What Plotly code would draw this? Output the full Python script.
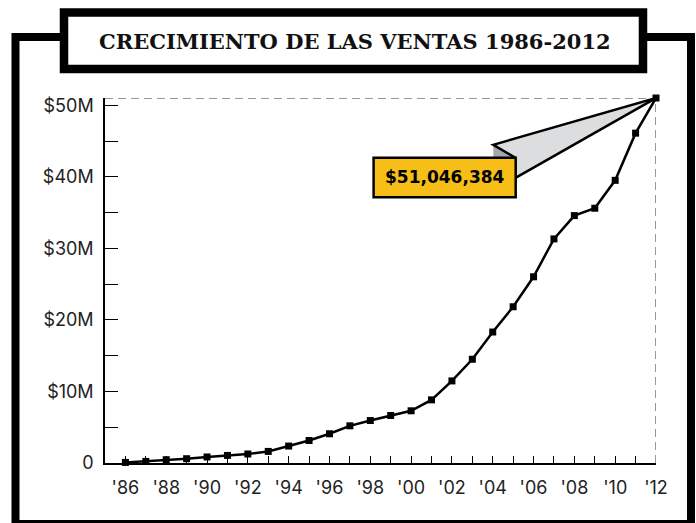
import plotly.graph_objects as go

# ---- data ----
years = list(range(1986, 2013))
sales = [0.08e6, 0.22e6, 0.46e6, 0.60e6, 0.84e6, 1.06e6, 1.26e6, 1.62e6, 2.37e6,
         3.15e6, 4.09e6, 5.20e6, 5.94e6, 6.64e6, 7.30e6, 8.83e6, 11.48e6, 14.51e6,
         18.32e6, 21.85e6, 26.04e6, 31.34e6, 34.60e6, 35.63e6, 39.53e6, 46.13e6,
         51046384]
title_text = "CRECIMIENTO DE LAS VENTAS 1986-2012"
y_tick_vals = [0, 5e6, 10e6, 15e6, 20e6, 25e6, 30e6, 35e6, 40e6, 45e6, 50e6]
y_tick_text = ["0", "", "$10M", "", "$20M", "", "$30M", "", "$40M", "", "$50M"]
x_tick_text = ["'" + str(y)[2:] if y % 2 == 0 else "" for y in years]
callout_text = "${:,}".format(sales[-1])

# ---- layout geometry ----
W, H = 696, 523
L, R, T, B = 105, 40, 98, 60
PW, PH = W - L - R, H - T - B


def px(x):
    return (x - L) / PW


def py(y):
    return (H - B - y) / PH


fig = go.Figure()
fig.add_trace(go.Scatter(
    x=years, y=sales, mode="lines+markers",
    line=dict(color="black", width=2.5),
    marker=dict(symbol="square", size=7, color="black"),
    cliponaxis=False, hoverinfo="skip", showlegend=False))

shapes = []
# outer frame
shapes.append(dict(type="rect", xref="paper", yref="paper",
                   x0=px(15.5), x1=px(691), y0=py(524), y1=py(37),
                   line=dict(color="black", width=8), fillcolor="rgba(0,0,0,0)"))
# title box
shapes.append(dict(type="rect", xref="paper", yref="paper",
                   x0=px(64), x1=px(643), y0=py(69), y1=py(12.5),
                   line=dict(color="black", width=8.5), fillcolor="white"))
# dashed guide lines to last point
shapes.append(dict(type="line", xref="paper", yref="y", x0=0, x1=1,
                   y0=sales[-1], y1=sales[-1],
                   line=dict(color="#333", width=1, dash="8px,5px")))
shapes.append(dict(type="line", xref="x", yref="y", x0=years[-1], x1=years[-1],
                   y0=0, y1=sales[-1],
                   line=dict(color="#333", width=1, dash="8px,5px")))

anchor = dict(xref="x", yref="y", xsizemode="pixel", ysizemode="pixel",
              xanchor=years[-1], yanchor=sales[-1])
# callout wedge (light)
shapes.append(dict(type="path", **anchor,
                   path="M0,0 L-162.7,-46.8 L-140.5,-59.8 L-140.5,-79.8 Z",
                   fillcolor="#DCDDDF", line=dict(width=0)))
# callout wedge (dark side)
shapes.append(dict(type="path", **anchor,
                   path="M-162.7,-46.8 L-162.7,-59.8 L-140.5,-59.8 Z",
                   fillcolor="#A5A7AA", line=dict(width=0)))
# callout outline
shapes.append(dict(type="path", **anchor,
                   path="M-140.5,-79.8 L0,0 L-162.7,-46.8 L-140.5,-59.8",
                   fillcolor="rgba(0,0,0,0)", line=dict(color="black", width=2.5)))
# yellow label box
shapes.append(dict(type="rect", **anchor,
                   x0=-282.4, x1=-140.3, y0=-59.8, y1=-99.2,
                   fillcolor="#F6BE16", line=dict(color="black", width=2.5)))

annotations = [
    dict(xref="paper", yref="paper", x=px(355), y=py(42), showarrow=False,
         text="<b>" + title_text + "</b>", xanchor="center", yanchor="middle",
         font=dict(family="DejaVu Serif", size=21, color="#111")),
    dict(xref="x", yref="y", x=years[-1], y=sales[-1], showarrow=False,
         xshift=-211.5, yshift=-79, text="<b>" + callout_text + "</b>",
         xanchor="center", yanchor="middle",
         font=dict(family="DejaVu Sans", size=17, color="black")),
]

fig.update_layout(
    width=W, height=H, margin=dict(l=L, r=R, t=T, b=B, pad=0),
    paper_bgcolor="white", plot_bgcolor="white",
    shapes=shapes, annotations=annotations,
    xaxis=dict(range=[1985, 2012], tickmode="array", tickvals=years, ticktext=x_tick_text,
               ticks="inside", ticklen=7, tickwidth=1.2, tickcolor="black",
               showline=True, linecolor="black", linewidth=1.5,
               showgrid=False, zeroline=False, ticklabelstandoff=8,
               tickfont=dict(family="Inter", size=18, color="#222")),
    yaxis=dict(range=[0, sales[-1]], tickmode="array", tickvals=y_tick_vals, ticktext=y_tick_text,
               ticks="inside", ticklen=13, tickwidth=1.2, tickcolor="black",
               showline=True, linecolor="black", linewidth=1.5,
               showgrid=False, zeroline=False, ticklabelstandoff=6,
               tickfont=dict(family="Inter", size=18, color="#222")),
)

fig.write_html("out.html", config={"displayModeBar": False},
               post_script="document.body.style.margin='0px';")
